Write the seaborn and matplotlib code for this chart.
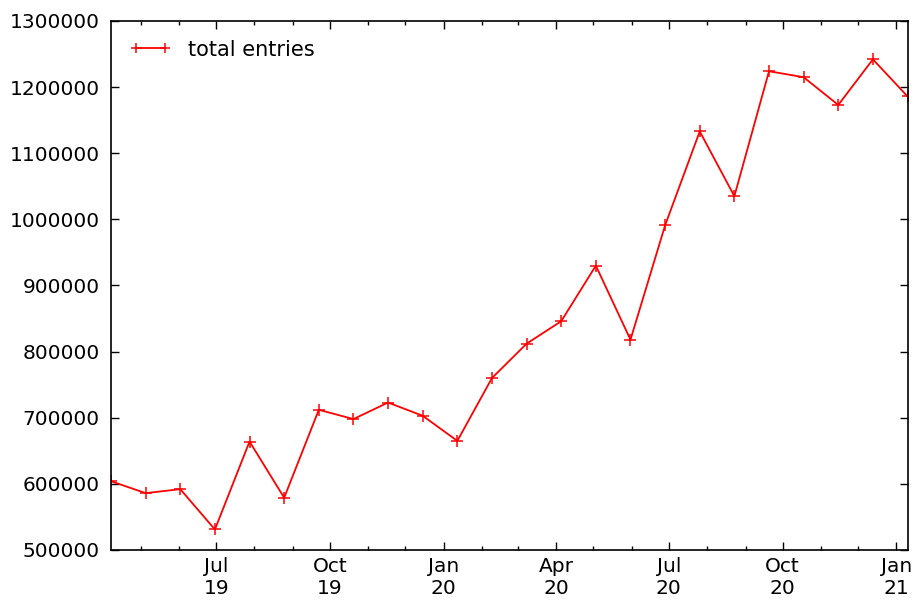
import pandas as pd
import seaborn as sns
import matplotlib.pyplot as plt
import matplotlib.dates as mdates

# dados: totais a cada 4 semanas (domingos)
datas = pd.date_range("2019-04-07", periods=24, freq="28D")
total_entries = [604000, 586000, 592000, 531000, 664000, 579000, 712000, 698000,
                 723000, 703000, 665000, 760000, 812000, 846000, 930000, 818000,
                 991000, 1133000, 1035000, 1224000, 1215000, 1173000, 1242000, 1186000]

dados = pd.DataFrame({"Data": datas, "total entries": total_entries})

sns.set_style("ticks")
plt.rcParams["font.family"] = ["DejaVu Sans"]
plt.rcParams["xtick.direction"] = "in"
plt.rcParams["ytick.direction"] = "in"

fig, ax = plt.subplots(figsize=(9.13, 6.03), dpi=100)
fig.subplots_adjust(left=0.1216, right=0.994, top=0.9652, bottom=0.0879)

sns.lineplot(x="Data", y="total entries", data=dados, color="red", linewidth=1.3,
             marker="+", markersize=8.5, markeredgewidth=1.1, markeredgecolor="red",
             label="total entries", ax=ax)

ax.set_xlim(datas[0], datas[-1])
ax.set_ylim(500000, 1300000)
ax.set_xlabel("")
ax.set_ylabel("")

ax.xaxis.set_major_locator(mdates.MonthLocator(bymonth=[1, 4, 7, 10]))
ax.xaxis.set_major_formatter(mdates.DateFormatter("%b\n%y"))
ax.xaxis.set_minor_locator(mdates.MonthLocator())
ax.yaxis.get_major_formatter().set_useOffset(False)
ax.ticklabel_format(axis="y", style="plain")

ax.tick_params(which="both", top=True, right=True, labelsize=14.5, colors="black")
ax.tick_params(which="major", length=6, width=1)
ax.tick_params(axis="x", which="major", pad=5)
ax.tick_params(axis="y", which="major", pad=8)
ax.tick_params(which="minor", length=3, width=1)
for s in ax.spines.values():
    s.set_linewidth(1.2)
    s.set_color("black")

leg = ax.legend(loc="upper left", frameon=False, fontsize=15, numpoints=2,
                handlelength=2, markerscale=0.8)
for t in leg.get_texts():
    t.set_color("black")

plt.savefig("out.png", dpi=100)
